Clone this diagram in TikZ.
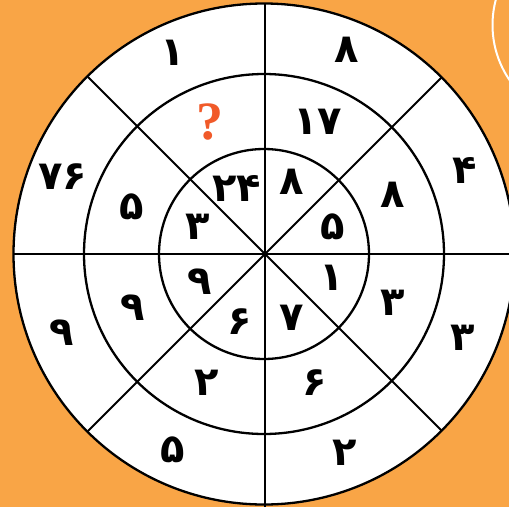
\documentclass[tikz,border=0pt]{standalone}
\usepackage{fontspec}
\usetikzlibrary{calc}
\newfontfamily\fafont[Script=Arabic]{DejaVu Sans}
\newfontfamily\qfont{Liberation Serif}
\definecolor{bgorange}{HTML}{F9A546}
\definecolor{qred}{HTML}{F15A29}
\begin{document}
\begin{tikzpicture}[x=1pt,y=-1pt,
  ring/.style={draw=black,line width=2.3pt},
  spoke/.style={draw=black,line width=2.1pt},
  num/.style={font=\fafont\bfseries\fontsize{40}{40}\selectfont,inner sep=0pt,anchor=center},
  qmark/.style={font=\qfont\bfseries\fontsize{54}{54}\selectfont,text=qred,inner sep=0pt}]
\useasboundingbox (0,0) rectangle (509,507);
\fill[bgorange] (0,0) rectangle (509,507);
\begin{scope}
\clip (0,0) rectangle (509,507);
\draw[white,line width=2pt] (590,25) circle (97.5);
\coordinate (c) at (264,254);
\fill[white] (c) circle (250.5);
\draw[ring] (c) circle (250.5);
\draw[ring] (c) circle (180);
\draw[ring] (c) circle (105);
\coordinate (o) at (265,254);
\coordinate (top) at (265,4);
\coordinate (bot) at (265,507);
\coordinate (lft) at (13,254);
\coordinate (rgt) at (509,254);
\coordinate (ul) at ($(o)+(-177,-177)$);
\coordinate (ur) at ($(o)+(177,-177)$);
\coordinate (ll) at ($(o)+(-177,177)$);
\coordinate (lr) at ($(o)+(177,177)$);
\draw[spoke] (top) -- (bot);
\draw[spoke] (lft) -- (rgt);
\draw[spoke] (ul) -- (lr);
\draw[spoke] (ur) -- (ll);
\end{scope}
% outer ring
\node[num] (o1) at (173,53) {۱};
\node[num] (o2) at (347,50) {۸};
\node[num] (o3) at (465,170) {۴};
\node[num] (o4) at (463,338) {۳};
\node[num] (o5) at (345,453) {۲};
\node[num] (o6) at (173,450) {۵};
\node[num] (o7) at (62,333) {۹};
\node[num] (o8) at (63,177) {۷۶};
% middle ring
\node[qmark] (m1) at (210,122) {?};
\node[num] (m2) at (318,122) {۱۷};
\node[num] (m3) at (393,195) {۸};
\node[num] (m4) at (393,303) {۳};
\node[num] (m5) at (315,383) {۶};
\node[num] (m6) at (207,383) {۲};
\node[num] (m7) at (133,308) {۹};
\node[num] (m8) at (132,207) {۵};
% inner ring
\node[num] (i1) at (237,188) {۲۴};
\node[num] (i2) at (292,182) {۸};
\node[num] (i3) at (333,227) {۵};
\node[num] (i4) at (332,278) {۱};
\node[num] (i5) at (292,318) {۷};
\node[num] (i6) at (240,322) {۶};
\node[num] (i7) at (200,282) {۹};
\node[num] (i8) at (198,227) {۳};
\end{tikzpicture}
\end{document}
